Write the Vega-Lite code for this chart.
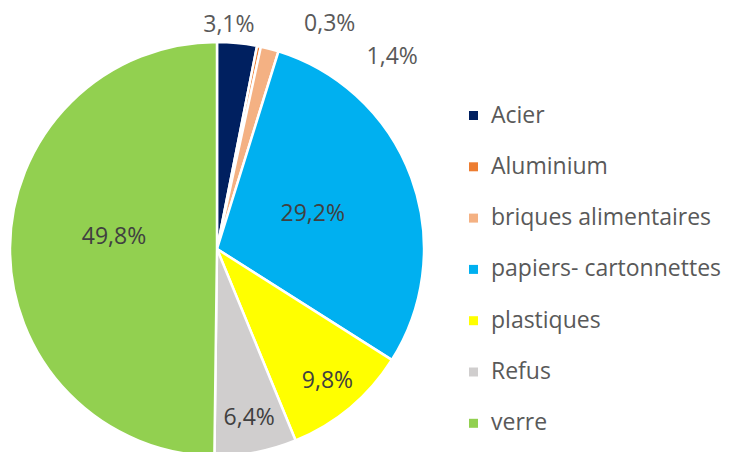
{
  "$schema": "https://vega.github.io/schema/vega-lite/v6.json",
  "width": 434,
  "height": 406,
  "autosize": {"type": "none"},
  "padding": {"left": 0, "top": 46, "right": 306, "bottom": 0},
  "background": "white",
  "config": {
    "view": {"stroke": null},
    "font": "Open Sans",
    "locale": {"number": {"decimal": ",", "thousands": "\u00a0", "grouping": [3], "currency": ["", "\u00a0€"]}}
  },
  "data": {"values": [
    {"cat": "Acier", "share": 0.031, "idx": 1},
    {"cat": "Aluminium", "share": 0.003, "idx": 2},
    {"cat": "briques alimentaires", "share": 0.014, "idx": 3},
    {"cat": "papiers- cartonnettes", "share": 0.292, "idx": 4},
    {"cat": "plastiques", "share": 0.098, "idx": 5},
    {"cat": "Refus", "share": 0.064, "idx": 6},
    {"cat": "verre", "share": 0.498, "idx": 7}
  ]},
  "transform": [{"calculate": "format(datum.share, '.1%')", "as": "label"}],
  "encoding": {
    "theta": {"field": "share", "type": "quantitative", "stack": true},
    "order": {"field": "idx", "type": "quantitative"}
  },
  "layer": [
    {
      "mark": {"type": "arc", "outerRadius": 207, "stroke": "white", "strokeWidth": 2.5},
      "encoding": {
        "color": {
          "field": "cat", "type": "nominal",
          "scale": {
            "domain": ["Acier", "Aluminium", "briques alimentaires", "papiers- cartonnettes", "plastiques", "Refus", "verre"],
            "range": ["#002060", "#ED7D31", "#F4B183", "#00B0F0", "#FFFF00", "#D0CECE", "#92D050"]
          },
          "legend": {
            "title": null, "orient": "none", "legendX": 462, "legendY": 58,
            "symbolType": "square", "symbolSize": 81, "symbolStrokeWidth": 0,
            "labelFontSize": 23, "labelColor": "#595959", "labelFont": "Open Sans",
            "rowPadding": 27.3, "labelOffset": 6, "labelLimit": 400
          }
        }
      }
    },
    {
      "mark": {"type": "text", "radius": 102, "fontSize": 23, "fill": "#404040"},
      "encoding": {"text": {"condition": {"test": "datum.cat === 'papiers- cartonnettes'", "field": "label"}, "value": ""}}
    },
    {
      "mark": {"type": "text", "radius": 103, "dy": -11, "fontSize": 23, "fill": "#404040"},
      "encoding": {"text": {"condition": {"test": "datum.cat === 'verre'", "field": "label"}, "value": ""}}
    },
    {
      "mark": {"type": "text", "radius": 172, "fontSize": 23, "fill": "#404040"},
      "encoding": {"text": {"condition": {"test": "datum.cat === 'plastiques' || datum.cat === 'Refus'", "field": "label"}, "value": ""}}
    },
    {
      "mark": {"type": "text", "radius": 225, "dx": -10, "fontSize": 23, "fill": "#595959"},
      "encoding": {"text": {"condition": {"test": "datum.cat === 'Acier'", "field": "label"}, "value": ""}}
    },
    {
      "mark": {"type": "text", "radius": 250, "dx": 62, "dy": 20, "fontSize": 23, "fill": "#595959"},
      "encoding": {"text": {"condition": {"test": "datum.cat === 'Aluminium'", "field": "label"}, "value": ""}}
    },
    {
      "mark": {"type": "text", "radius": 260, "dx": 109, "dy": 59, "fontSize": 23, "fill": "#595959"},
      "encoding": {"text": {"condition": {"test": "datum.cat === 'briques alimentaires'", "field": "label"}, "value": ""}}
    }
  ]
}
